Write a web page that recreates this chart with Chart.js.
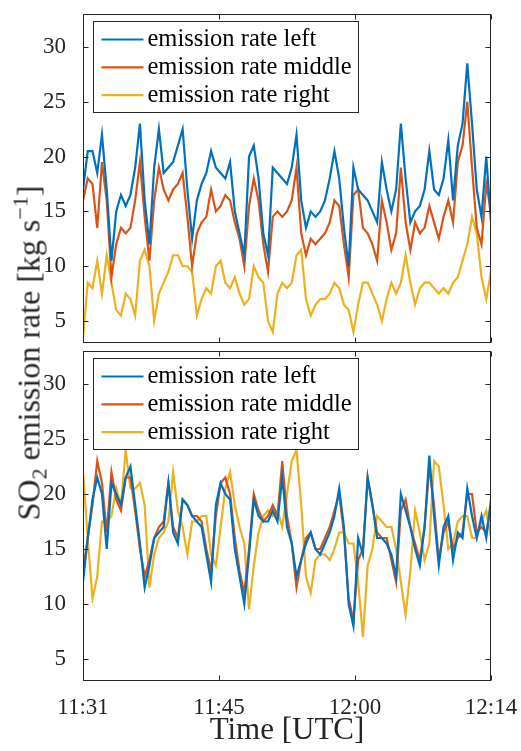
<!DOCTYPE html>
<html>
<head>
<meta charset="utf-8">
<script src="https://cdn.jsdelivr.net/npm/chart.js@4.4.1/dist/chart.umd.min.js"></script>
<style>
  body { margin: 0; background: #fff; }
  #wrap { position: relative; width: 521px; height: 751px; overflow: hidden; }
  canvas { position: absolute; left: 0; }
  #top { top: 0; }
  #bottom { top: 347px; }
  #ytitle {
    position: absolute; left: 29px; top: 353px;
    transform: translate(-50%, -50%) rotate(-90deg);
    white-space: nowrap; font: 32px "Liberation Serif", serif; color: #262626;
  }
  #ytitle sub, #ytitle sup { font-size: 22px; line-height: 0; }
</style>
</head>
<body>
<div id="wrap">
  <canvas id="top" width="521" height="347"></canvas>
  <canvas id="bottom" width="521" height="404"></canvas>
  <div id="ytitle">SO<sub>2</sub> emission rate [kg s<sup>&minus;1</sup>]</div>
</div>
<script>
/* ---------- data (minutes after 11:31 UTC) ---------- */
const minutes = [
  0, 0.5, 1, 1.5, 2, 2.5, 3, 3.5, 4, 4.5, 5, 5.5, 6, 6.5, 7, 7.5, 8, 8.5, 9, 9.5,
  10, 10.5, 11, 11.5, 12, 12.5, 13, 13.5, 14, 14.5, 15, 15.5, 16, 16.5, 17, 17.5, 18, 18.5, 19, 19.5,
  20, 20.5, 21, 21.5, 22, 22.5, 23, 23.5, 24, 24.5, 25, 25.5, 26, 26.5, 27, 27.5, 28, 28.5, 29, 29.5,
  30, 30.5, 31, 31.5, 32, 32.5, 33, 33.5, 34, 34.5, 35, 35.5, 36, 36.5, 37, 37.5, 38, 38.5, 39, 39.5,
  40, 40.5, 41, 41.5, 42, 42.5, 43
];

// top panel
const topLeft = [
  17, 20.5, 20.5, 18.5, 22, 17, 10.5, 15, 16.5, 15.5, 16.5, 19, 23, 16, 12, 19, 22.5, 18.5, 19, 19.5,
  21, 22.5, 17, 12.5, 16, 17.5, 18.5, 20.5, 19, 18.5, 18, 19.5, 15, 13, 11, 20, 21, 18, 13, 11,
  19, 18.5, 18, 17.5, 19, 22, 16, 13.5, 15, 14.5, 15, 16, 18, 20.5, 18, 13.5, 10, 19, 17, 16.5,
  16, 15, 14, 19.5, 17, 15, 17, 23, 18, 14, 15, 15.5, 17, 20.5, 17, 16.5, 18, 21.5, 16, 21,
  23, 28.5, 23, 17, 14.5, 20, 14
];
const topMiddle = [
  16, 18, 17.5, 13.5, 19.5, 16, 9, 12, 13.5, 13, 13.5, 16, 19.5, 14.5, 10.5, 16, 19, 17, 16, 17,
  17.5, 18.5, 14.5, 10, 13, 14, 14.5, 17, 15, 15.5, 16.5, 16, 14, 12.5, 10, 15.5, 18, 16, 12, 9.5,
  14.5, 15, 14.5, 15, 16, 19, 13, 11, 12.5, 12, 12.5, 13, 14, 16, 15.5, 12, 9, 16.5, 17, 13.5,
  13, 12, 10.5, 16, 14, 11.5, 13, 19, 14, 11.5, 14, 13, 13.5, 15.5, 14, 12.5, 14.5, 16, 14, 19.5,
  21, 25, 19, 13.5, 12, 17.5, 15
];
const topRight = [
  3.5, 8.5, 8, 10.5, 7.5, 11, 8.5, 6, 5.5, 7.5, 7, 5.5, 10.5, 11.5, 10, 5, 7.5, 8.5, 9.5, 11,
  11, 10, 10, 9.5, 5.5, 7, 8, 7.5, 10, 10.5, 8.5, 8, 9, 7.5, 6.5, 7, 10, 9, 8.5, 5,
  4, 7.5, 8.5, 8, 8.5, 11, 11.5, 7, 5.5, 6.5, 7, 7, 7.5, 8.5, 8, 6.5, 6, 4, 6.5, 8.5,
  8.5, 7.5, 6.5, 5, 7, 8.5, 7.5, 8.5, 11, 8.5, 6.5, 8, 8.5, 8.5, 8, 7.5, 8, 7.5, 8.5, 9,
  10.5, 12, 14.5, 13, 9, 7, 9.5
];

// bottom panel
const botLeft = [
  12, 16, 19.5, 21.5, 20, 15, 21, 20, 19, 21.5, 22.5, 19, 15.5, 11.5, 13.5, 16, 16.5, 17, 21, 16.5,
  15.5, 19.5, 19, 18, 17.5, 17, 14.5, 12, 19, 21, 20, 19.5, 15, 12.5, 10, 14.5, 19.5, 18, 17.5, 17.5,
  18.5, 17.5, 21.5, 17, 15.5, 12.5, 14, 15.5, 16.5, 15, 14.5, 15.5, 16.5, 18, 20.5, 17, 10, 8, 16, 14.5,
  21.5, 19, 16, 16, 15.5, 14.5, 12.5, 20, 18.5, 17, 15, 13.5, 17, 23.5, 18, 13.5, 17, 18, 14, 16.5,
  16, 20.5, 18, 16, 18, 16, 19.5
];
const botMiddle = [
  13, 16, 19, 23, 21, 16.5, 22, 19.5, 18.5, 21.5, 21.5, 18.5, 15, 12.5, 14, 16, 17, 17.5, 21, 17,
  16, 19.5, 19, 18, 18, 17.5, 15, 13, 18, 21, 21.5, 20, 16, 13, 11, 15, 20, 18.5, 17.5, 18,
  19, 18, 23, 18, 15.5, 11.5, 14, 16, 16.5, 15, 15, 16, 17, 18.5, 20, 16.5, 10.5, 8.5, 14, 15,
  21.5, 19, 16.5, 16, 16, 14, 12, 18.5, 19.5, 17, 15.5, 14, 17, 22.5, 19, 14, 16.5, 17.5, 15, 16,
  16.5, 20, 20, 16.5, 17, 16.5, 19
];
const botRight = [
  22, 16, 10.5, 12.5, 17.5, 17.5, 18, 20.5, 19, 24, 20.5, 20.5, 21, 19, 11.5, 14.5, 16, 16.5, 17.5, 22,
  18.5, 17, 14.5, 17.5, 17.5, 18, 18, 14.5, 13.5, 17, 20.5, 22, 19, 17, 15.5, 9.5, 13.5, 16.5, 18, 18.5,
  18, 18.5, 17, 20, 23, 24, 19, 12.5, 11, 14, 14.5, 14.5, 14, 15, 16.5, 16.5, 15.5, 15.5, 12, 7,
  13.5, 15, 18, 17.5, 17, 17, 15, 12, 9, 13, 18.5, 16.5, 14, 15.5, 23, 22.5, 19, 15, 15.5, 17.5,
  18, 18, 16, 16, 17.5, 18.5, 16
];

const seriesNames = ["emission rate left", "emission rate middle", "emission rate right"];
const seriesColors = ["#0072BD", "#D95319", "#EDB120"];

const tickMinutes = [0, 43 / 3, 86 / 3, 43];
const tickLabels = ["11:31", "11:45", "12:00", "12:14"];
const yTicks = [5, 10, 15, 20, 25, 30];

/* ---------- frame, inward ticks and legend ---------- */
const ink = "#262626";

const framePlugin = {
  id: "frame",
  afterDatasetsDraw(chart) {
    const { ctx, chartArea: a, scales: { x, y } } = chart;
    const L = Math.round(a.left) + 0.5, R = Math.round(a.right) - 0.5;
    const T = Math.round(a.top) + 0.5, B = Math.round(a.bottom) - 0.5;
    ctx.save();
    ctx.strokeStyle = ink;
    ctx.lineWidth = 1;
    ctx.beginPath();
    yTicks.forEach(v => {
      const py = Math.round(y.getPixelForValue(v)) + 0.5;
      ctx.moveTo(L, py); ctx.lineTo(L + 5, py);
      ctx.moveTo(R, py); ctx.lineTo(R - 5, py);
    });
    tickMinutes.forEach(v => {
      const px = Math.round(x.getPixelForValue(v)) + 0.5;
      ctx.moveTo(px, B); ctx.lineTo(px, B - 5);
      ctx.moveTo(px, T); ctx.lineTo(px, T + 5);
    });
    ctx.stroke();
    ctx.strokeRect(L, T, R - L, B - T);

    // legend, upper left
    const bx = Math.round(a.left + 10) + 0.5, by = Math.round(a.top + 7) + 0.5;
    ctx.fillStyle = "#fff";
    ctx.fillRect(bx, by, 265, 91);
    ctx.strokeStyle = ink;
    ctx.strokeRect(bx, by, 265, 91);
    ctx.font = '24.5px "Liberation Serif", serif';
    ctx.textBaseline = "middle";
    chart.data.datasets.forEach((ds, i) => {
      const ry = by + 18 + i * 27.8;
      ctx.strokeStyle = ds.borderColor;
      ctx.lineWidth = 2.2;
      ctx.beginPath();
      ctx.moveTo(bx + 8, ry); ctx.lineTo(bx + 50, ry);
      ctx.stroke();
      ctx.fillStyle = "#000";
      ctx.fillText(ds.label, bx + 54, ry);
    });
    ctx.restore();
  }
};

function makePanel(id, values, showX, padding) {
  return new Chart(document.getElementById(id), {
    type: "line",
    data: {
      datasets: values.map((vals, i) => ({
        label: seriesNames[i],
        data: minutes.map((t, k) => ({ x: t, y: vals[k] })),
        borderColor: seriesColors[i],
        borderWidth: 2.2,
        pointRadius: 0,
        tension: 0,
        fill: false
      }))
    },
    options: {
      responsive: false,
      animation: false,
      devicePixelRatio: 1,
      layout: { padding },
      plugins: { legend: { display: false }, tooltip: { enabled: false } },
      scales: {
        x: {
          type: "linear",
          display: showX,
          min: 0,
          max: 43,
          grid: { display: false },
          border: { display: false },
          afterBuildTicks: s => { s.ticks = tickMinutes.map(v => ({ value: v })); },
          afterFit: s => {
            s.paddingLeft = 0; s.paddingRight = 0;
            s.height = showX ? 70 : 0;
          },
          ticks: {
            autoSkip: false,
            maxRotation: 0,
            padding: 5,
            color: ink,
            font: { family: "Liberation Serif", size: 23 },
            callback: (v, i) => tickLabels[i]
          },
          title: {
            display: true,
            text: "Time [UTC]",
            color: ink,
            padding: { top: 0, bottom: 2 },
            font: { family: "Liberation Serif", size: 31 }
          }
        },
        y: {
          min: 3,
          max: 33,
          grid: { display: false },
          border: { display: false },
          afterBuildTicks: s => { s.ticks = yTicks.map(v => ({ value: v })); },
          afterFit: s => { s.width = 83; s.paddingTop = 0; s.paddingBottom = 0; },
          ticks: {
            padding: 9,
            color: ink,
            font: { family: "Liberation Serif", size: 23 }
          }
        }
      }
    },
    plugins: [framePlugin]
  });
}

makePanel("top", [topLeft, topMiddle, topRight], false, { left: 0, right: 30, top: 14, bottom: 4 });
makePanel("bottom", [botLeft, botMiddle, botRight], true, { left: 0, right: 30, top: 4, bottom: 0 });
</script>
</body>
</html>
